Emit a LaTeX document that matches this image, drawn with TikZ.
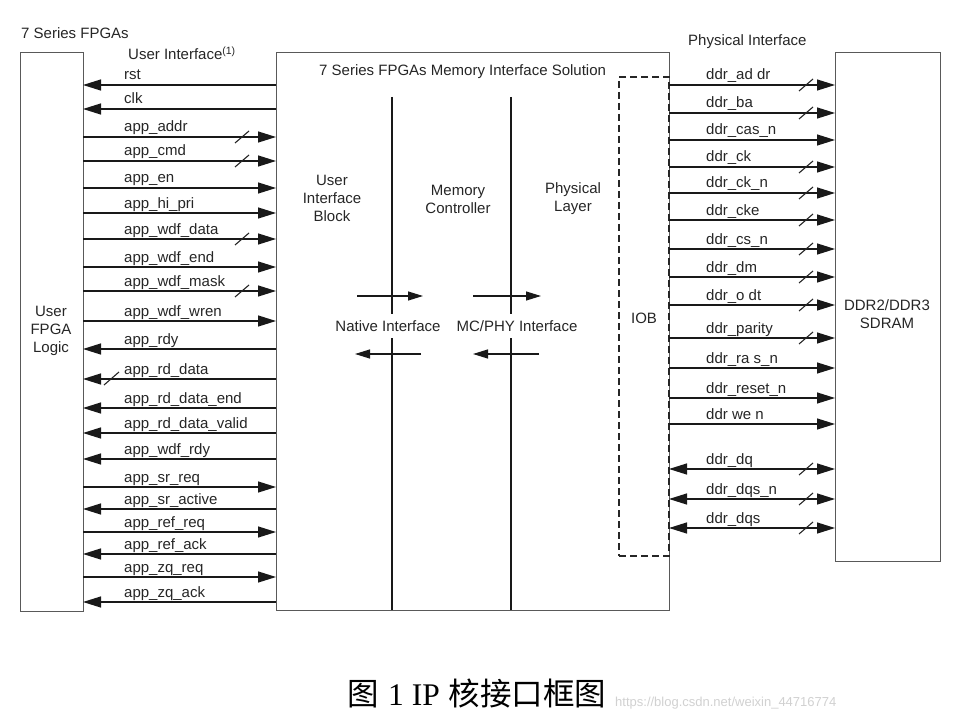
\documentclass[tikz,border=0pt]{standalone}
\usepackage{fontspec}
\setmainfont{Liberation Sans}
\newfontfamily\cjk{Noto Sans CJK SC}
\newfontfamily\capserif{Liberation Serif}
\usetikzlibrary{arrows.meta}
\begin{document}
\begin{tikzpicture}[x=1pt,y=-1pt,
  box/.style={draw=black!65, line width=1pt, inner sep=0pt, outer sep=0pt},
  txt/.style={font=\fontsize{15}{18}\selectfont, text=black!85, inner sep=0pt},
  lbl/.style={txt, anchor=base west},
  sig/.style={line width=1.3pt, draw=black!90},
  tor/.style={-{Triangle[length=18pt,width=11pt]}},
  tol/.style={{Triangle[length=18pt,width=11pt]}-},
  both/.style={{Triangle[length=18pt,width=11pt]}-{Triangle[length=18pt,width=11pt]}},
  slash/.style={line width=1.1pt, draw=black!85},
  inner/.style={-{Triangle[length=15pt,width=9pt]}, line width=1.2pt, draw=black!90},
  vline/.style={line width=1.1pt, draw=black!90}]
\useasboundingbox (0,0) rectangle (966,722);
\fill[white] (0,0) rectangle (966,722);

% main boxes
\node[box, minimum width=63pt, minimum height=558pt] (fpga) at (51.5,332) {};
\node[box, minimum width=393pt, minimum height=557pt] (mis) at (472.5,331.5) {};
\node[box, minimum width=105pt, minimum height=508pt] (ddr) at (887.5,307) {};
\node[draw=black!85, dash pattern=on 7pt off 4pt, line width=1.1pt,
      minimum width=50pt, minimum height=479pt, inner sep=0pt, outer sep=0pt] (iob) at (644,316.5) {};

% titles
\node[txt, anchor=west] (t7) at (21,33) {7 Series FPGAs};
\node[txt, anchor=west] (tui) at (128,53) {User Interface\textsuperscript{(1)}};
\node[txt, anchor=west] (tpi) at (688,42) {Physical Interface};
\node[txt, anchor=west] (tmis) at (319,72) {7 Series FPGAs Memory Interface Solution};

% block texts
\node[txt, align=center] (tfpga) at (51,331) {User\\FPGA\\Logic};
\node[txt, align=center] (tuib) at (332,198) {User\\Interface\\Block};
\node[txt, align=center] (tmc) at (458,199) {Memory\\Controller};
\node[txt, align=center] (tphy) at (573,199) {Physical\\Layer};
\node[txt] (tiob) at (644,318) {IOB};
\node[txt, align=center] (tddr) at (887,314) {DDR2/DDR3\\SDRAM};

% internal vertical lines
\coordinate (v1) at (392,97);
\coordinate (v2) at (511,97);
\draw[vline] (v1) -- (v1 |- mis.south);
\draw[vline] (v2) -- (v2 |- mis.south);
\node[txt, fill=white, inner xsep=1pt, inner ysep=6pt] (tni) at (388,326) {Native Interface};
\node[txt, fill=white, inner xsep=1pt, inner ysep=6pt] (tmp) at (517,326) {MC/PHY Interface};

% internal arrows
\coordinate (a1s) at (357,296); \coordinate (a1e) at (423,296);
\coordinate (a2s) at (473,296); \coordinate (a2e) at (541,296);
\coordinate (b1s) at (421,354); \coordinate (b1e) at (355,354);
\coordinate (b2s) at (539,354); \coordinate (b2e) at (473,354);
\draw[inner] (a1s) -- (a1e);
\draw[inner] (a2s) -- (a2e);
\draw[inner] (b1s) -- (b1e);
\draw[inner] (b2s) -- (b2e);

% user interface signals
\foreach \y/\t/\d in {85/rst/tol, 109/clk/tol, 137/app\_addr/tor, 161/app\_cmd/tor,
  188/app\_en/tor, 213/app\_hi\_pri/tor, 239/app\_wdf\_data/tor, 267/app\_wdf\_end/tor,
  291/app\_wdf\_mask/tor, 321/app\_wdf\_wren/tor, 349/app\_rdy/tol, 379/app\_rd\_data/tol,
  408/app\_rd\_data\_end/tol, 433/app\_rd\_data\_valid/tol, 459/app\_wdf\_rdy/tol,
  487/app\_sr\_req/tor, 509/app\_sr\_active/tol, 532/app\_ref\_req/tor,
  554/app\_ref\_ack/tol, 577/app\_zq\_req/tor, 602/app\_zq\_ack/tol}{
  \node[lbl] (sl\y) at (124,\y-5) {\t};
  \coordinate (cl\y) at (0,\y);
  \draw[sig,\d] (fpga.east |- cl\y) -- (mis.west |- cl\y);
}
\foreach \y in {137,161,239,291}{
  \draw[slash] (235,\y+6) -- (249,\y-6);
}
\draw[slash] (104,385) -- (119,372);

% physical interface signals
\foreach \y/\t/\d in {85/ddr\_ad dr/tor, 113/ddr\_ba/tor, 140/ddr\_cas\_n/tor,
  167/ddr\_ck/tor, 193/ddr\_ck\_n/tor, 220/ddr\_cke/tor, 249/ddr\_cs\_n/tor,
  277/ddr\_dm/tor, 305/ddr\_o dt/tor, 338/ddr\_parity/tor, 368/ddr\_ra s\_n/tor,
  398/ddr\_reset\_n/tor, 424/ddr we n/tor, 469/ddr\_dq/both, 499/ddr\_dqs\_n/both,
  528/ddr\_dqs/both}{
  \node[lbl] (sr\y) at (706,\y-5) {\t};
  \coordinate (cr\y) at (0,\y);
  \draw[sig,\d] (mis.east |- cr\y) -- (ddr.west |- cr\y);
}
\foreach \y in {85,113,167,193,220,249,277,305,338,469,499,528}{
  \draw[slash] (799,\y+6) -- (813,\y-6);
}

% caption
\node[text=black, inner sep=0pt] (cap) at (477,693)
  {\fontsize{31.5}{33}\selectfont{\cjk 图} {\capserif 1 IP} {\cjk 核接口框图}};
\node[anchor=west, text=black!18, inner sep=0pt] (wm) at (615,703)
  {\fontsize{13}{15}\selectfont https://blog.csdn.net/weixin\_44716774};
\end{tikzpicture}
\end{document}
